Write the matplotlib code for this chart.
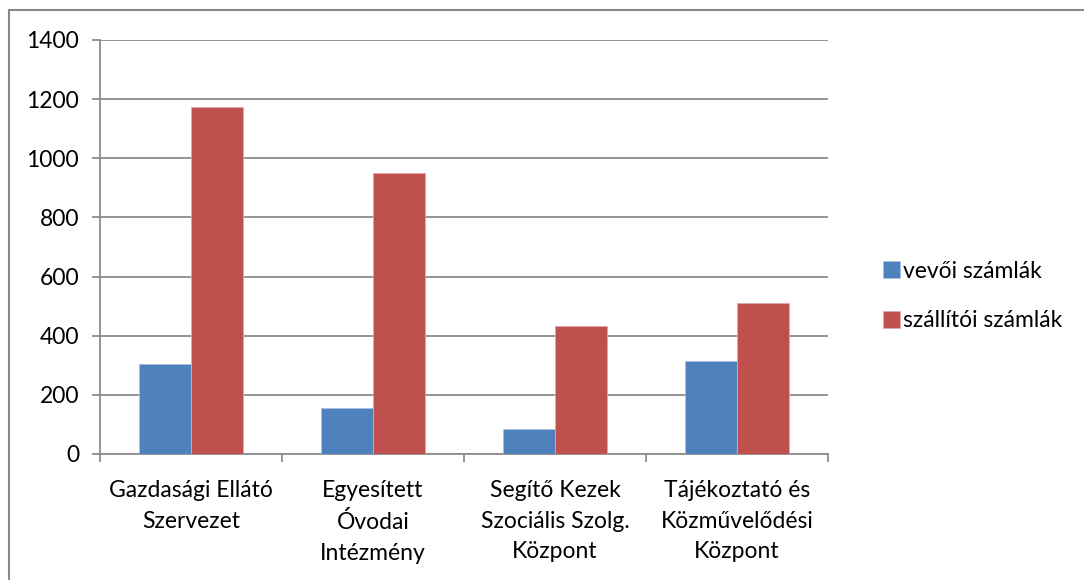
import numpy as np
import matplotlib.pyplot as plt
from matplotlib.patches import Rectangle

plt.rcParams['font.family'] = ['Lato', 'DejaVu Sans']

categories = ["Gazdasági Ellátó\nSzervezet", "Egyesített\nÓvodai\nIntézmény",
              "Segítő Kezek\nSzociális Szolg.\nKözpont", "Tájékoztató és\nKözművelődési\nKözpont"]
vevoi = [306, 154, 84, 316]
szallitoi = [1174, 949, 434, 511]
series_names = ["vevői számlák", "szállítói számlák"]

fig = plt.figure(figsize=(10.84, 5.8), dpi=100)
ax = fig.add_axes([100 / 1084, 1 - 454 / 580, 728 / 1084, 414 / 580])

# outer chart border (only top and left edges fall inside the image)
fig.patches.append(Rectangle((9 / 1084, -0.05), 1.2, 1 - 10 / 580 + 0.05, transform=fig.transFigure,
                             fill=False, edgecolor="#888888", linewidth=1.5))

x = np.arange(len(categories))
w = 1 / 3.5
ax.bar(x - w / 2, vevoi, w, color="#4F81BD", edgecolor="#A7C0DE", linewidth=0.6, label=series_names[0], zorder=3)
ax.bar(x + w / 2, szallitoi, w, color="#C0504D", edgecolor="#E0A9A8", linewidth=0.6, label=series_names[1], zorder=3)

ax.set_xlim(-0.5, 3.5)
ax.set_ylim(0, 1400)
ax.set_yticks(range(0, 1401, 200))
ax.yaxis.grid(True, color="#8c8c8c", linewidth=1.3, zorder=0)

ax.set_xticks(x)
ax.set_xticklabels(categories, fontsize=16.5, linespacing=1.55)
ax.tick_params(axis="x", length=0, pad=19)
ax.set_xticks(np.arange(-0.5, 4.0, 1), minor=True)
ax.tick_params(axis="x", which="minor", length=6, color="#8c8c8c", width=1.3)
ax.tick_params(axis="y", length=6, color="#8c8c8c", width=1.3, labelsize=16.5, pad=9)

for s in ["top", "right"]:
    ax.spines[s].set_visible(False)
for s in ["left", "bottom"]:
    ax.spines[s].set_color("#8c8c8c")
    ax.spines[s].set_linewidth(1.3)

fig.legend(loc="center left", bbox_to_anchor=(862 / 1084, 1 - 296 / 580), frameon=False,
           fontsize=16.5, handlelength=0.75, handleheight=0.75, handletextpad=0.15, labelspacing=1.25)

fig.savefig("out.png", dpi=100)
